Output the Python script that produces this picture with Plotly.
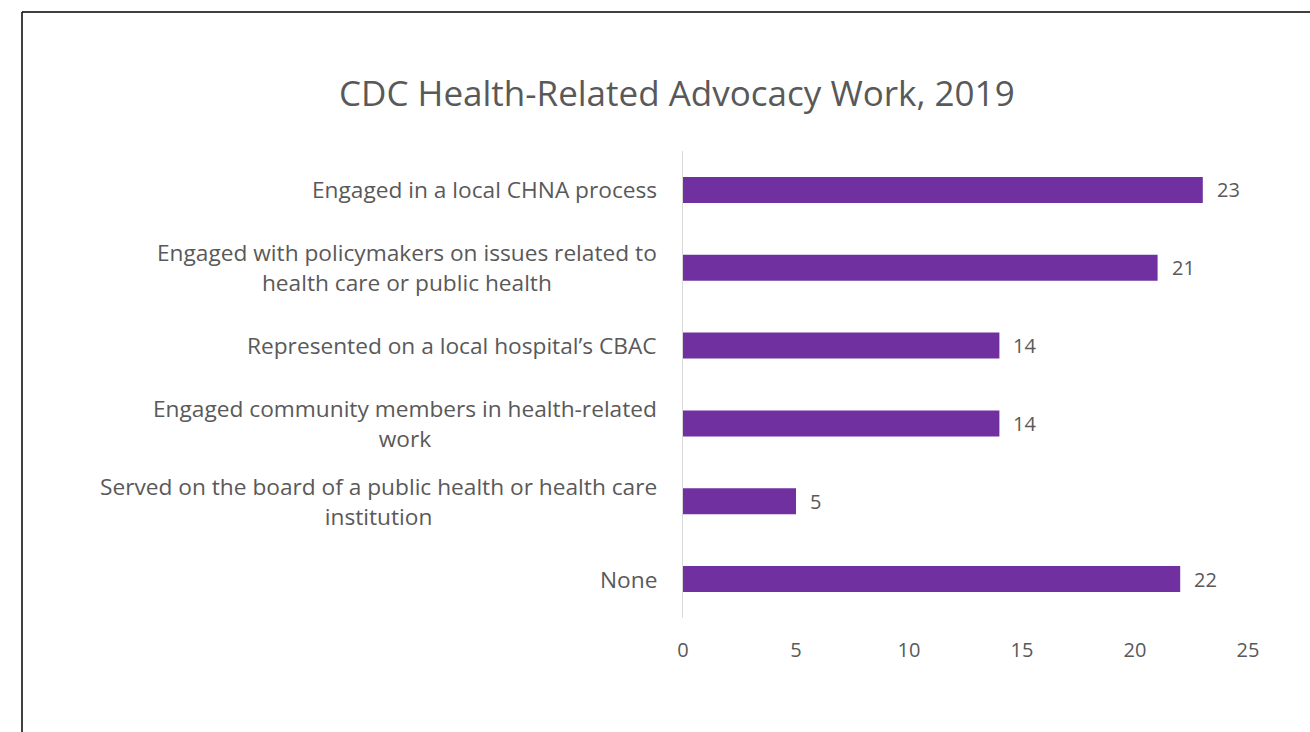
import plotly.graph_objects as go

# Categories (top to bottom) and counts
labels = [
    "Engaged in a local CHNA process",
    "Engaged with policymakers on issues related to<br>health care or public health",
    "Represented on a local hospital\u2019s CBAC",
    "Engaged community members in health-related<br>work",
    "Served on the board of a public health or health care<br>institution",
    "None",
]
counts = [23, 21, 14, 14, 5, 22]
x_ticks = [0, 5, 10, 15, 20, 25]

title_text = "CDC Health-Related Advocacy Work, 2019"

W, H = 1310, 732
PLOT_L, PLOT_R, PLOT_T, PLOT_B = 683, 1248, 151, 618
FONT = "'Open Sans', Lato, sans-serif"
GREY = "#595959"
PURPLE = "#7030A0"
LABEL_SIZE = 22.7
TITLE_SIZE = 35

plot_w = PLOT_R - PLOT_L
plot_h = PLOT_B - PLOT_T


def px_to_paper_x(px):
    return (px - PLOT_L) / plot_w


def px_to_paper_y(py):
    return 1 + (PLOT_T - py) / plot_h


fig = go.Figure(
    go.Bar(
        x=counts,
        y=labels,
        orientation="h",
        marker=dict(color=PURPLE, line=dict(width=0)),
        hoverinfo="x+y",
    )
)

annotations = []
# Category labels, centred line-by-line and right-aligned against the axis
for lab in labels:
    annotations.append(dict(
        x=0, xref="paper", y=lab, yref="y",
        text=lab, showarrow=False, xanchor="right", yanchor="middle",
        xshift=-24, align="center",
        font=dict(family=FONT, size=LABEL_SIZE, color=GREY),
    ))
# Value labels at the end of each bar
for lab, v in zip(labels, counts):
    annotations.append(dict(
        x=v, xref="x", y=lab, yref="y",
        text=str(v), showarrow=False, xanchor="left", yanchor="middle",
        xshift=12,
        font=dict(family=FONT, size=20, color=GREY),
    ))
# Chart title
annotations.append(dict(
    x=px_to_paper_x(677), xref="paper", y=px_to_paper_y(93), yref="paper",
    text=title_text, showarrow=False, xanchor="center", yanchor="middle",
    font=dict(family=FONT, size=TITLE_SIZE, color=GREY),
))

# Outer frame: left and top edges only
frame_x = px_to_paper_x(22)
frame_y = px_to_paper_y(12)
shapes = [
    dict(type="line", xref="paper", yref="paper", x0=frame_x, x1=3, y0=frame_y, y1=frame_y,
         line=dict(color="black", width=1.5)),
    dict(type="line", xref="paper", yref="paper", x0=frame_x, x1=frame_x, y0=frame_y, y1=-3,
         line=dict(color="black", width=1.5)),
]

fig.update_layout(
    width=W, height=H,
    margin=dict(l=PLOT_L, r=W - PLOT_R, t=PLOT_T, b=H - PLOT_B, pad=0),
    paper_bgcolor="white", plot_bgcolor="white",
    bargap=0.665,
    showlegend=False,
    annotations=annotations,
    shapes=shapes,
    xaxis=dict(
        range=[0, 25], tickvals=x_ticks, ticktext=[str(t) for t in x_ticks],
        showgrid=False, zeroline=False, showline=False,
        ticks="outside", ticklen=14, tickcolor="rgba(0,0,0,0)",
        tickfont=dict(family=FONT, size=20, color=GREY),
        fixedrange=True,
    ),
    yaxis=dict(
        autorange="reversed", showticklabels=False,
        showgrid=False, zeroline=False,
        showline=True, linecolor="#D9D9D9", linewidth=1,
        ticks="", fixedrange=True,
    ),
)

fig.write_html("out.html", config={"displayModeBar": False})
